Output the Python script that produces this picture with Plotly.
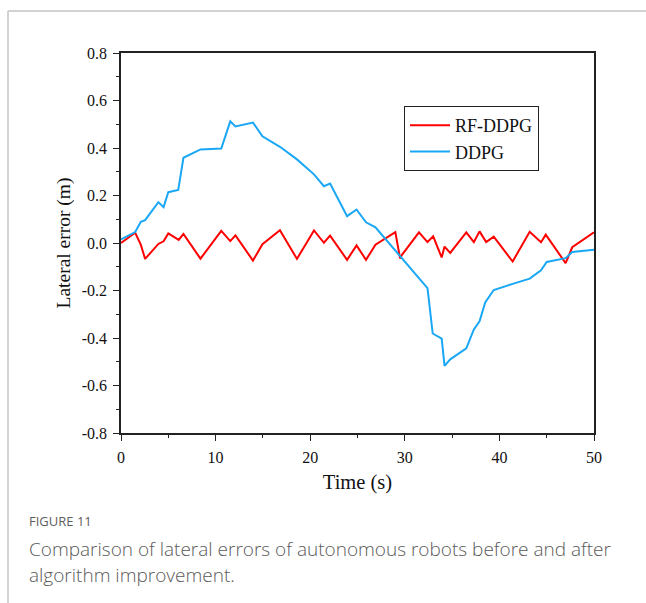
import plotly.graph_objects as go

# ---- data ----
rf_t = [0, 1.5, 2.1, 2.55, 3.95, 4.5, 5.0, 6.1, 6.6, 8.4, 10.6, 11.55, 12.1, 13.95, 14.95,
        16.8, 18.6, 20.4, 21.45, 22.1, 23.9, 24.9, 25.9, 26.9, 29.0, 29.5, 29.7, 31.5, 32.4,
        33.0, 33.9, 34.2, 34.8, 36.5, 37.3, 37.9, 38.6, 39.4, 41.4, 43.2, 44.4, 44.9, 47.0,
        47.7, 50.0]
rf_v = [0.0, 0.043, -0.008, -0.067, -0.004, 0.007, 0.040, 0.013, 0.038, -0.066, 0.051,
        0.008, 0.032, -0.074, -0.005, 0.054, -0.067, 0.053, 0.001, 0.031, -0.071, -0.010,
        -0.071, -0.007, 0.046, -0.065, -0.050, 0.045, 0.004, 0.028, -0.061, -0.015, -0.042,
        0.045, 0.004, 0.049, 0.004, 0.027, -0.078, 0.047, 0.003, 0.035, -0.085, -0.018, 0.045]

dd_t = [0, 1.5, 2.1, 2.55, 3.95, 4.5, 5.0, 6.05, 6.6, 8.4, 10.6, 11.55, 12.1, 13.95, 14.95,
        16.8, 18.6, 20.4, 21.45, 22.1, 23.9, 24.9, 25.9, 26.9, 32.4, 32.95, 33.9, 34.2, 34.8,
        36.5, 37.3, 37.9, 38.5, 39.4, 41.4, 43.2, 44.4, 45.0, 47.0, 47.7, 50.0]
dd_v = [0.015, 0.046, 0.089, 0.096, 0.172, 0.151, 0.214, 0.223, 0.359, 0.394, 0.398, 0.512,
        0.491, 0.507, 0.449, 0.405, 0.352, 0.289, 0.239, 0.250, 0.113, 0.141, 0.087, 0.066,
        -0.190, -0.381, -0.403, -0.517, -0.490, -0.444, -0.364, -0.330, -0.250, -0.198,
        -0.172, -0.150, -0.115, -0.080, -0.064, -0.038, -0.028]

y_tick_vals = [-0.8, -0.6, -0.4, -0.2, 0.0, 0.2, 0.4, 0.6, 0.8]
y_tick_text = ["-0.8", "-0.6", "-0.4", "-0.2", "0.0", "0.2", "0.4", "0.6", "0.8"]
x_tick_vals = [0, 10, 20, 30, 40, 50]

series_names = ["RF-DDPG", "DDPG"]
x_title = "Time (s)"
y_title = "Lateral error (m)"
fig_label = "FIGURE 11"
caption_1 = "Comparison of lateral errors of autonomous robots before and after"
caption_2 = "algorithm improvement."

# ---- layout geometry ----
W, H = 646, 603
L, R, T, B = 121, 52, 53, 170
pw, ph = W - L - R, H - T - B


def px(x):
    return (x - L) / pw


def py(y):
    return (H - B - y) / ph


SERIF = "Liberation Serif"
SANS = "Open Sans"

fig = go.Figure()
fig.add_trace(go.Scatter(x=rf_t, y=rf_v, mode="lines", name=series_names[0],
                         line=dict(color="#FF0000", width=2)))
fig.add_trace(go.Scatter(x=dd_t, y=dd_v, mode="lines", name=series_names[1],
                         line=dict(color="#1AA7F5", width=2)))

axis_common = dict(
    showline=True, linecolor="#222222", linewidth=1.5, mirror=True,
    showgrid=False, zeroline=False,
    ticks="outside", ticklen=6, tickwidth=1.2, tickcolor="#222222",
    tickfont=dict(family=SERIF, size=16, color="#111111"),
    ticklabelstandoff=3,
)

fig.update_xaxes(
    range=[0, 50], tickvals=x_tick_vals,
    minor=dict(dtick=5, tick0=0, ticks="outside", ticklen=3, tickwidth=1.2, tickcolor="#222222"),
    title=dict(text=x_title, font=dict(family=SERIF, size=20.5, color="#111111"), standoff=10),
    **axis_common,
)
fig.update_yaxes(
    range=[-0.8, 0.8], tickvals=y_tick_vals, ticktext=y_tick_text,
    minor=dict(dtick=0.1, tick0=0, ticks="outside", ticklen=3, tickwidth=1.2, tickcolor="#222222"),
    title=dict(text=y_title, font=dict(family=SERIF, size=19.5, color="#111111"), standoff=6),
    **axis_common,
)

fig.update_layout(
    width=W, height=H,
    margin=dict(l=L, r=R, t=T, b=B, autoexpand=False),
    paper_bgcolor="white", plot_bgcolor="white",
    showlegend=True,
    legend=dict(
        x=px(404), y=py(106), xanchor="left", yanchor="top",
        bordercolor="#222222", borderwidth=1, bgcolor="white",
        font=dict(family=SERIF, size=18, color="#111111"),
        tracegroupgap=0, itemwidth=40,
    ),
    shapes=[
        dict(type="line", xref="paper", yref="paper", x0=px(8), x1=px(W), y0=py(11), y1=py(11),
             line=dict(color="#c4c4c4", width=1.5)),
        dict(type="line", xref="paper", yref="paper", x0=px(8), x1=px(8), y0=py(11), y1=py(H),
             line=dict(color="#c4c4c4", width=1.5)),
    ],
    annotations=[
        dict(text=fig_label, xref="paper", yref="paper", x=px(27), y=py(521),
             xanchor="left", yanchor="middle", showarrow=False,
             font=dict(family=SANS, size=13, color="#5e5e5e")),
        dict(text=caption_1, xref="paper", yref="paper", x=px(27), y=py(549),
             xanchor="left", yanchor="middle", showarrow=False,
             font=dict(family=SANS, size=19, color="#5a5a5a", weight=300)),
        dict(text=caption_2, xref="paper", yref="paper", x=px(27), y=py(575),
             xanchor="left", yanchor="middle", showarrow=False,
             font=dict(family=SANS, size=19, color="#5a5a5a", weight=300)),
    ],
)

fig.write_html("out.html")
